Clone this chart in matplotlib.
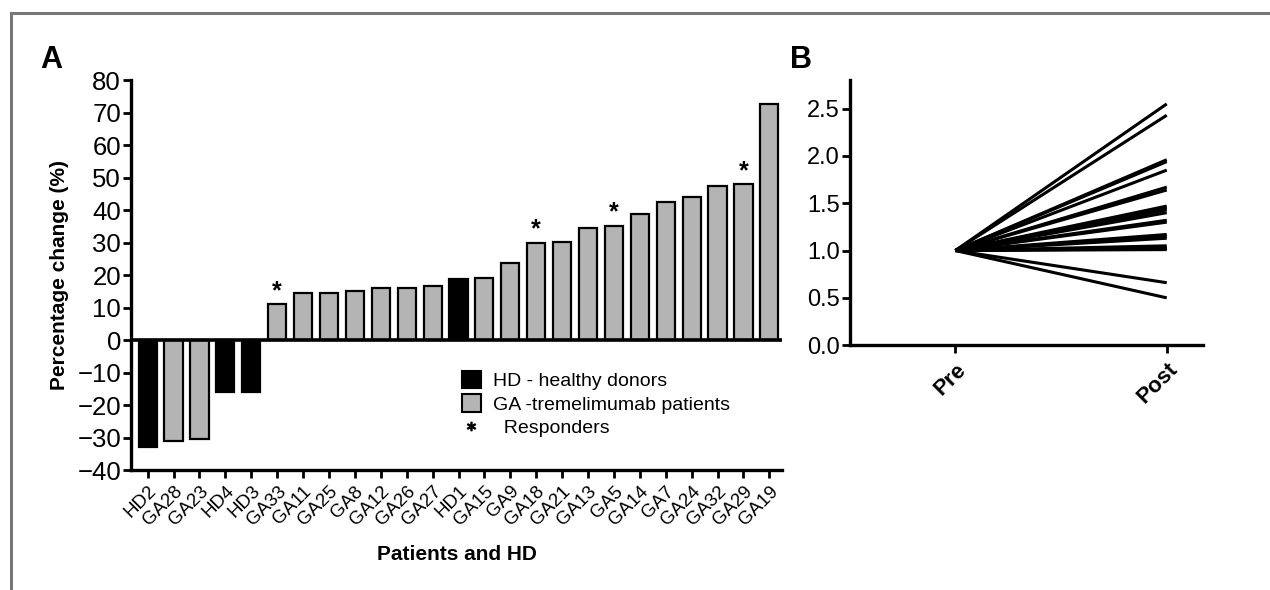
import matplotlib
matplotlib.use("Agg")
import matplotlib.pyplot as plt
from matplotlib.lines import Line2D
from matplotlib.patches import Patch

plt.rcParams['font.family'] = ['Liberation Sans', 'DejaVu Sans']

# panel A data
patients = ["HD2", "GA28", "GA23", "HD4", "HD3", "GA33", "GA11", "GA25", "GA8",
            "GA12", "GA26", "GA27", "HD1", "GA15", "GA9", "GA18", "GA21", "GA13",
            "GA5", "GA14", "GA7", "GA24", "GA32", "GA29", "GA19"]
pct_change = [-33.0, -31.0, -30.5, -16.0, -16.0, 11.0, 14.5, 14.5, 15.0,
              16.0, 16.0, 16.7, 18.7, 19.3, 23.7, 30.0, 30.2, 34.5,
              35.3, 38.9, 42.6, 44.0, 47.5, 48.0, 72.8]
responders = ["GA33", "GA18", "GA5", "GA29"]

# panel B data (pre normalised to 1)
timepoints = ["Pre", "Post"]
post_values = [2.55, 2.43, 1.96, 1.94, 1.85, 1.67, 1.64, 1.47, 1.45, 1.43, 1.40,
               1.32, 1.30, 1.17, 1.15, 1.13, 1.05, 1.03, 1.02, 1.01, 0.66, 0.50]

fig = plt.figure(figsize=(12.7, 5.9), dpi=100)

# grey frame around figure
fig.add_artist(Line2D([0.0087, 0.0087], [0.0, 0.978], transform=fig.transFigure,
                      color="#777777", lw=2.2))
fig.add_artist(Line2D([0.0087, 1.0], [0.978, 0.978], transform=fig.transFigure,
                      color="#777777", lw=2.2))

# ---- panel A
ax = fig.add_axes([0.103, 0.203, 0.513, 0.661])
colors = ["black" if p.startswith("HD") else "#b4b4b4" for p in patients]
x = list(range(len(patients)))
ax.bar(x, pct_change, width=0.7, color=colors, edgecolor="black", linewidth=1.6, zorder=2)
ax.axhline(0, color="black", lw=2.6, zorder=3)
for i, p in enumerate(patients):
    if p in responders:
        ax.annotate("*", (i, pct_change[i]), xytext=(0, 1), textcoords="offset points",
                    ha="center", va="bottom", fontsize=18, fontweight="bold")
ax.set_xlim(-0.65, 24.5)
ax.set_ylim(-40, 80)
ax.set_yticks(range(-40, 81, 10))
ax.set_xticks(x)
ax.set_xticklabels(patients, rotation=45, ha="right", rotation_mode="anchor", fontsize=13.5)
ax.tick_params(axis="y", labelsize=18.5, width=2, length=6, pad=1)
ax.tick_params(axis="x", width=2, length=6, pad=3)
for s in ["top", "right"]:
    ax.spines[s].set_visible(False)
for s in ["left", "bottom"]:
    ax.spines[s].set_linewidth(2.4)
ax.set_ylabel("Percentage change (%)", fontsize=15, fontweight="bold", labelpad=6)
ax.set_xlabel("Patients and HD", fontsize=15, fontweight="bold", labelpad=12)

handles = [Patch(facecolor="black", edgecolor="black", lw=1.5),
           Patch(facecolor="#b4b4b4", edgecolor="black", lw=1.5),
           Line2D([], [], ls="none", marker="$*$", color="black", markersize=6)]
ax.legend(handles, ["HD - healthy donors", "GA -tremelimumab patients", "  Responders"],
          loc="upper left", bbox_to_anchor=(0.508, 0.255), frameon=False, fontsize=14,
          handlelength=1.0, handleheight=1.0, handletextpad=0.6, labelspacing=0.22,
          borderaxespad=0, borderpad=0)

fig.text(0.032, 0.885, "A", fontsize=22, fontweight="bold")

# ---- panel B
bx = fig.add_axes([0.669, 0.415, 0.278, 0.449])
for v in post_values:
    bx.plot([0, 1], [1.0, v], color="black", lw=2.2, solid_capstyle="butt")
bx.set_xlim(-0.5, 1.17)
bx.set_ylim(0, 2.8)
bx.set_yticks([0.0, 0.5, 1.0, 1.5, 2.0, 2.5])
bx.set_yticklabels(["0.0", "0.5", "1.0", "1.5", "2.0", "2.5"])
bx.set_xticks([0, 1])
bx.set_xticklabels(timepoints, rotation=45, ha="right", rotation_mode="anchor",
                   fontsize=16, fontweight="bold")
bx.tick_params(axis="y", labelsize=17, width=2, length=6, pad=1)
bx.tick_params(axis="x", width=2, length=6, pad=4)
for s in ["top", "right"]:
    bx.spines[s].set_visible(False)
for s in ["left", "bottom"]:
    bx.spines[s].set_linewidth(2.4)

fig.text(0.622, 0.885, "B", fontsize=22, fontweight="bold")

fig.savefig("out.png", dpi=100)
